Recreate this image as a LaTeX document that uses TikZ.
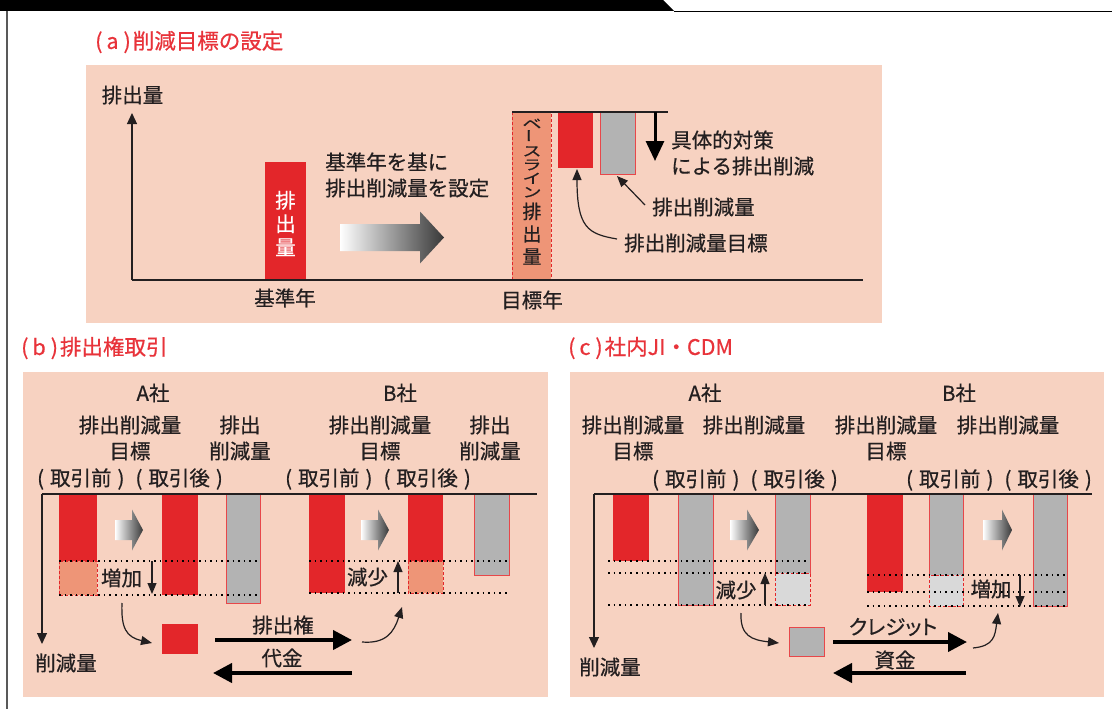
\documentclass[tikz,border=0pt]{standalone}
\usepackage{fontspec}
\usepackage{graphicx}
\setmainfont{Noto Sans CJK JP}[FakeBold=0.6]
\newfontfamily\jpprop{Noto Sans CJK JP}[RawFeature=+palt,FakeBold=0.6]
\usetikzlibrary{arrows.meta}
\definecolor{bgpeach}{HTML}{F7D2C1}
\definecolor{barred}{HTML}{E3262A}
\definecolor{salmon}{HTML}{EE9577}
\definecolor{bargray}{HTML}{B3B3B3}
\definecolor{lgray}{HTML}{D9D9D9}
\definecolor{titlered}{HTML}{E8333A}
\definecolor{ink}{HTML}{231F20}
\newcommand{\grarrow}[6]{% x0, xhead, xtip, ycenter, half shaft, half head
  \shade[left color=white,right color=black!78]
   (#1,#4-#5) -- (#2,#4-#5) -- (#2,#4-#6) -- (#3,#4) -- (#2,#4+#6) -- (#2,#4+#5) -- (#1,#4+#5) -- cycle;}
\newcommand{\beforeafter}{(\hspace{6pt}取引前\hspace{6pt})\hspace{11pt}(\hspace{6pt}取引後\hspace{6pt})}
\newcommand{\vk}[1]{\scalebox{1}[0.72]{#1}}
\begin{document}
\begin{tikzpicture}[x=1pt,y=-1pt,
  lbl/.style={font=\fontsize{20.5}{26}\selectfont, text=ink, inner sep=0pt, align=center},
  wlbl/.style={font=\fontsize{20.5}{23.5}\selectfont, text=white, inner sep=0pt, align=center},
  vtext/.style={font=\fontsize{19}{22.5}\selectfont, text=ink, inner sep=0pt, align=center},
  ttl/.style={font=\fontsize{21.5}{24}\selectfont, text=titlered, inner sep=0pt, anchor=west},
  axisline/.style={draw=ink, line width=1.2pt},
  axarrow/.style={draw=ink, line width=1.2pt, -{Triangle[length=11pt,width=10pt]}},
  thinarrow/.style={draw=ink, line width=1.2pt, -{Triangle[length=11pt,width=9pt]}},
  bigarrow/.style={draw=black, line width=4pt, -{Triangle[length=19pt,width=19pt]}},
  dotline/.style={draw=black, line width=1.6pt, dash pattern=on 1.6pt off 4pt},
  redbar/.style={fill=barred},
  graybar/.style={fill=bargray, draw=barred!85, line width=1pt},
  saldash/.style={fill=salmon, draw=barred, line width=0.9pt, dash pattern=on 3pt off 2pt},
  lgdash/.style={fill=lgray, draw=barred, line width=0.9pt, dash pattern=on 3pt off 2pt},
]
\useasboundingbox (0,0) rectangle (1112,709);
\fill[white] (0,0) rectangle (1112,709);
% frame
\fill[black] (0,0) -- (663,0) -- (674,11) -- (0,11) -- cycle;
\draw[black, line width=1.5pt] (674,11.5) -- (1112,11.5);
\draw[black!65, line width=2pt] (7,11) -- (7,709);

% ================= (a) =================
\node[ttl] (ta) at (95,42) {(\hspace{4pt}a\hspace{5pt})\hspace{2pt}削減目標の設定};
\fill[bgpeach] (86,65) rectangle (882,323);
\fill[redbar] (265,162) rectangle (306,280);
\node[wlbl] (aem) at (285.5,223.5) {排\\出\\量};
\fill[saldash] (512,112) rectangle (551,280);
\node[vtext, anchor=north] (abase) at (532,118.5)
  {\vk{ベ}\\[-8.8pt]\vk{\rotatebox{90}{ー}}\\[-8.8pt]\vk{ス}\\[-8.8pt]\vk{ラ}\\[-8.8pt]\vk{イ}\\[-8.8pt]\vk{ン}\\[-1pt]排\\出\\量};
\fill[redbar] (558,112) rectangle (593,168);
\fill[graybar] (600,112) rectangle (635,174);
\draw[axisline] (512,112) -- (668,112);
\coordinate (ax0) at (132,280);
\coordinate (axy) at (132,113);
\coordinate (axx) at (863,280);
\draw[axarrow] (ax0) -- (axy);
\draw[axisline] (ax0) -- (axx);
\node[lbl] (ay) at (132.5,95) {排出量};
\node[lbl] (akj) at (285,298) {基準年};
\node[lbl] (amk) at (532,300) {目標年};
\node[lbl, anchor=west, align=left] (aset) at (325,175) {基準年を基に\\排出削減量を設定};
\grarrow{340}{420}{444}{237.5}{13.5}{26}
\coordinate (ad0) at (655,112);
\coordinate (ad1) at (655,161);
\draw[black, line width=3pt, -{Triangle[length=20pt,width=18pt]}] (ad0) -- (ad1);
\node[lbl, anchor=west, align=left] (agt) at (671,153) {具体的対策\\による排出削減};
\node[lbl, anchor=west] (ared) at (652,207) {排出削減量};
\node[lbl, anchor=west] (atgt) at (624,243) {排出削減量目標};
\coordinate (a1s) at (645,205);
\coordinate (a1e) at (617,176);
\draw[thinarrow] (a1s) -- (a1e);
\coordinate (a2s) at (617,239);
\coordinate (a2e) at (577,169);
\draw[thinarrow] (a2s) .. controls (588,234) and (577,228) .. (a2e);

% ================= (b) =================
\node[ttl] (tb) at (21,348) {(\hspace{4pt}b\hspace{5pt})\hspace{2pt}排出権取引};
\fill[bgpeach] (23,372) rectangle (548,697);
\node[lbl] (bA) at (153,393) {A社};
\node[lbl] (bAt) at (130,438) {排出削減量\\目標};
\node[lbl] (bAr) at (240,438) {排出\\削減量};
\node[lbl] (bAp) at (130,479) {\beforeafter};
\node[lbl] (bB) at (400,393) {B社};
\node[lbl] (bBt) at (380,438) {排出削減量\\目標};
\node[lbl] (bBr) at (490,438) {排出\\削減量};
\node[lbl] (bBp) at (378,479) {\beforeafter};
% bars A
\fill[redbar] (59,494) rectangle (97,561);
\fill[saldash] (59,561) rectangle (97,595);
\fill[redbar] (162,494) rectangle (198,595);
\fill[graybar] (226,494) rectangle (260,603);
\draw[dotline] (59,561) -- (258,561);
\draw[dotline] (59,595) -- (258,595);
\grarrow{115}{132}{143}{530}{10}{20.5}
% bars B
\fill[redbar] (309,494) rectangle (345,593);
\fill[redbar] (408,494) rectangle (443,561);
\fill[saldash] (408,561) rectangle (443,593);
\fill[graybar] (474,494) rectangle (509,575);
\draw[dotline] (309,561) -- (507,561);
\draw[dotline] (309,593) -- (507,593);
\grarrow{361}{378}{389}{530}{10}{20.5}
% axis
\coordinate (bx0) at (42,494);
\coordinate (bxy) at (42,644);
\coordinate (bxx) at (537,494);
\draw[axarrow] (bx0) -- (bxy);
\draw[axisline] (bx0) -- (bxx);
\node[lbl] (bcut) at (66,663) {削減量};
% increase / decrease
\node[lbl] (binc) at (121.5,578) {増加};
\coordinate (bi0) at (152,561);
\coordinate (bi1) at (152,594);
\draw[thinarrow] (bi0) -- (bi1);
\node[lbl] (bdec) at (367.5,577) {減少};
\coordinate (bd0) at (398,593);
\coordinate (bd1) at (398,561);
\draw[thinarrow] (bd0) -- (bd1);
% permit square and flows
\fill[redbar] (162,624) rectangle (198,654);
\coordinate (bc1s) at (122,603);
\coordinate (bc1e) at (152,643);
\draw[thinarrow] (bc1s) .. controls (121,628) and (126,637) .. (bc1e);
\coordinate (bc2s) at (362,642);
\coordinate (bc2e) at (402,607);
\draw[thinarrow] (bc2s) .. controls (386,644) and (394,632) .. (bc2e);
\node[lbl] (bper) at (283,625) {排出権};
\coordinate (bp0) at (215,640);
\coordinate (bp1) at (352,640);
\draw[bigarrow] (bp0) -- (bp1);
\node[lbl] (bpay) at (282,658) {代金};
\coordinate (bq0) at (352,673);
\coordinate (bq1) at (213,673);
\draw[bigarrow] (bq0) -- (bq1);

% ================= (c) =================
\node[ttl] (tc) at (568,348) {(\hspace{4pt}c\hspace{5pt})\hspace{2pt}社内JI・CDM};
\fill[bgpeach] (570,372) rectangle (1104,697);
\node[lbl] (cA) at (705,393) {A社};
\node[lbl] (cAt) at (633,438) {排出削減量\\目標};
\node[lbl] (cAr) at (754,425) {排出削減量};
\node[lbl] (cAp) at (745,480) {\beforeafter};
\node[lbl] (cB) at (959,393) {B社};
\node[lbl] (cBt) at (886,438) {排出削減量\\目標};
\node[lbl] (cBr) at (1008,425) {排出削減量};
\node[lbl] (cBp) at (999,480) {\beforeafter};
% bars A
\fill[redbar] (613,494) rectangle (649,561);
\fill[graybar] (678,494) rectangle (713,605);
\fill[graybar] (775,494) rectangle (810,573);
\fill[lgdash] (775,573) rectangle (810,605);
\draw[dotline] (608,561) -- (808,561);
\draw[dotline] (608,573) -- (808,573);
\draw[dotline] (608,605) -- (808,605);
\grarrow{730}{747}{759}{530}{10}{20.5}
% bars B
\fill[redbar] (867,494) rectangle (903,592);
\fill[graybar] (929,494) rectangle (963,575);
\fill[lgdash] (929,575) rectangle (963,606);
\fill[graybar] (1033,494) rectangle (1067,606);
\draw[dotline] (867,575) -- (1065,575);
\draw[dotline] (867,592) -- (1065,592);
\draw[dotline] (867,606) -- (1065,606);
\grarrow{983}{1002}{1012}{530}{10}{20.5}
% axis
\coordinate (cx0) at (594,494);
\coordinate (cxy) at (594,648);
\coordinate (cxx) at (1092,494);
\draw[axarrow] (cx0) -- (cxy);
\draw[axisline] (cx0) -- (cxx);
\node[lbl] (ccut) at (610,667) {削減量};
\node[lbl] (cdec) at (736,590) {減少};
\coordinate (cd0) at (765,605);
\coordinate (cd1) at (765,573);
\draw[thinarrow] (cd0) -- (cd1);
\node[lbl] (cinc) at (991,589) {増加};
\coordinate (ci0) at (1020,575);
\coordinate (ci1) at (1020,607);
\draw[thinarrow] (ci0) -- (ci1);
% credit square and flows
\fill[graybar] (789,627) rectangle (824,656);
\coordinate (cc1s) at (741,613);
\coordinate (cc1e) at (779,643);
\draw[thinarrow] (cc1s) .. controls (740,636) and (752,640) .. (cc1e);
\coordinate (cc2s) at (973,648);
\coordinate (cc2e) at (998,613);
\draw[thinarrow] (cc2s) .. controls (994,646) and (995,636) .. (cc2e);
\node[lbl, font=\jpprop\fontsize{20.5}{26}\selectfont] (ccr) at (893,627) {クレジット};
\coordinate (cp0) at (833,642);
\coordinate (cp1) at (967,642);
\draw[bigarrow] (cp0) -- (cp1);
\node[lbl] (cfund) at (895,660) {資金};
\coordinate (cq0) at (966,673);
\coordinate (cq1) at (833,673);
\draw[bigarrow] (cq0) -- (cq1);
\end{tikzpicture}
\end{document}
